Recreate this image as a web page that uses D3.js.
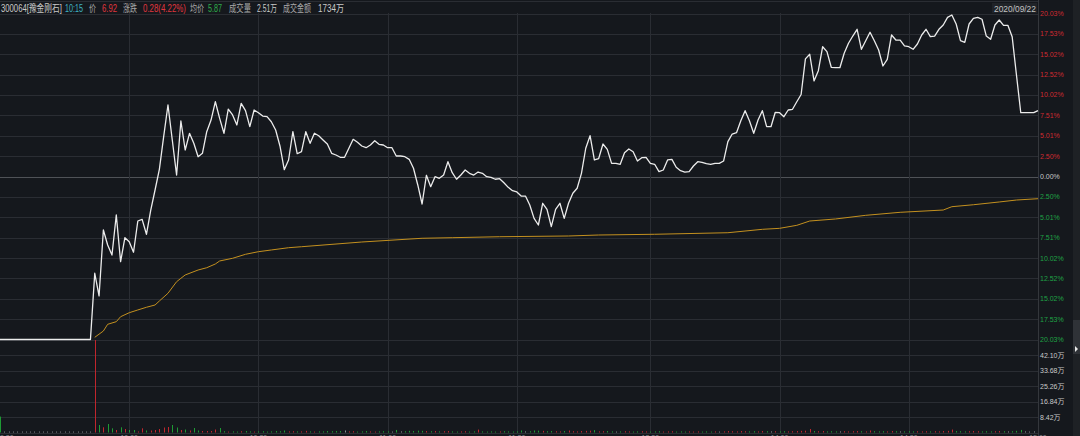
<!DOCTYPE html>
<html><head><meta charset="utf-8">
<script src="https://cdn.jsdelivr.net/npm/d3@7/dist/d3.min.js"></script>
<style>html,body{margin:0;padding:0;background:#15181d;overflow:hidden}svg{display:block}</style>
</head><body><svg id="c" width="1080" height="436"></svg>
<script>
// ---------- DATA ----------
const pctTicks = [20.03,17.53,15.02,12.52,10.02,7.51,5.01,2.50,0.00,-2.50,-5.01,-7.51,-10.02,-12.52,-15.02,-17.53,-20.03];
const volTicks = [42.10,33.68,25.26,16.84,8.42];
const timeTickIdx = [0,30,60,90,120,151,181,211,241];
const timeTickLabels = ["9:30","10:00","10:30","11:00","11:30","13:30","14:00","14:30","15:00"];

// price change (%) per minute, index 0..241
const pricePct = [
-20.03,-20.03,-20.03,-20.03,-20.03,-20.03,-20.03,-20.03,-20.03,-20.03,
-20.03,-20.03,-20.03,-20.03,-20.03,-20.03,-20.03,-20.03,-20.03,-20.03,
-20.03,-20.03,-11.89,-14.68,-6.57,-8.42,-9.65,-4.73,-10.47,-7.52,
-8.01,-9.31,-5.47,-5.26,-7.10,-4.12,-1.66,0.88,4.89,8.79,
4.49,0.18,6.82,3.26,5.31,4.08,2.43,2.85,5.51,6.94,
9.19,7.15,5.31,8.29,7.56,6.33,8.99,8.09,6.12,8.17,
7.84,7.43,7.35,6.73,5.71,3.75,0.84,2.03,5.51,2.80,
3.05,5.51,4.08,5.31,5.01,4.49,3.99,2.85,2.64,2.36,
2.36,3.47,4.57,4.20,3.75,3.54,3.87,4.40,3.96,3.87,
3.54,3.54,2.52,2.52,2.43,2.11,1.01,-1.04,-3.38,0.15,
-1.25,-0.02,-0.22,0.18,1.82,0.47,-0.34,0.18,0.80,0.39,
0.18,0.55,0.39,-0.02,-0.10,-0.34,-0.27,-0.76,-1.33,-1.74,
-1.90,-2.40,-2.40,-3.50,-5.14,-5.96,-3.29,-4.03,-6.17,-4.03,
-3.29,-5.14,-3.29,-2.06,-1.45,0.39,3.47,5.01,2.03,2.21,
3.99,3.34,1.62,1.62,1.50,2.92,3.38,3.05,1.90,2.31,
2.36,1.62,1.50,0.59,0.80,2.03,2.11,1.13,0.71,0.55,
0.59,1.29,1.82,1.74,1.57,1.50,1.62,1.62,1.90,4.28,
5.22,5.38,6.86,8.09,6.86,5.31,6.94,8.09,6.12,6.12,
7.89,7.84,7.35,8.17,8.26,9.19,10.08,14.46,15.02,11.74,
13.00,15.95,15.34,13.42,13.37,13.37,15.14,16.37,17.26,18.09,
15.63,16.69,17.72,16.69,15.54,13.58,14.40,17.39,16.77,16.77,
16.04,15.95,15.63,16.28,17.39,18.09,17.18,17.26,18.09,18.62,
19.56,19.85,18.74,16.69,16.49,18.74,19.44,19.56,19.32,17.26,
16.86,18.62,19.23,18.58,18.58,17.18,12.47,7.84,7.84,7.84,
7.84,8.09];

// average price line (%), read at these minute indices
const avgIdx = [22,24,25,27,28,30,32,34,36,37,39,41,42,43,46,48,50,51,54,57,60,63,67,70,84,98,105,116,132,139,152,169,177,181,185,188,194,201,209,219,221,226,232,236,241];
const avgPct = [-19.76,-18.99,-18.16,-17.84,-17.23,-16.74,-16.40,-16.07,-15.79,-15.30,-14.35,-12.93,-12.51,-12.10,-11.49,-11.21,-10.75,-10.38,-10.05,-9.56,-9.24,-9.03,-8.75,-8.63,-8.05,-7.59,-7.52,-7.40,-7.31,-7.19,-7.10,-6.91,-6.49,-6.37,-6.00,-5.47,-5.22,-4.77,-4.40,-4.12,-3.71,-3.47,-3.13,-2.89,-2.73];

// volume per minute (万)
const volume = [
8.7,0.5,0.5,0.5,0.5,0.5,0.5,0.5,0.5,0.5,
0.5,0.5,0.5,0.5,0.5,0.5,0.5,0.5,0.5,0.5,
0.5,0.5,80,4.1,2.84,4.64,2.29,1.37,2.84,1.91,
1.37,1.37,0.55,2.29,1.09,1.09,1.37,1.91,2.73,3.0,
4.1,2.73,1.37,1.64,1.09,2.46,1.09,0.82,0.82,0.82,
1.64,2.46,0.7,0.5,0.6,0.5,0.7,0.8,0.6,0.5,
0.6,0.7,0.5,0.6,0.8,0.7,1.1,0.6,0.7,0.6,
0.6,0.9,0.6,0.5,0.6,0.6,0.8,0.7,0.8,0.8,
1.1,0.6,0.7,0.5,0.6,0.8,0.6,0.5,0.6,0.7,
0.6,0.5,1.4,0.6,0.7,0.9,0.8,1.0,0.9,0.8,
0.7,0.8,0.6,0.7,0.8,0.6,0.5,0.6,0.7,0.5,
0.6,1.6,0.6,0.5,0.6,0.5,0.6,0.7,0.6,0.5,
0.6,1.1,0.6,0.7,1.1,1.0,0.9,0.7,0.8,0.7,
0.6,0.8,1.1,0.7,0.6,0.8,0.9,1.0,1.3,0.6,
0.7,0.8,0.6,0.5,0.6,0.7,0.6,0.5,0.6,0.7,
0.6,0.5,0.6,0.7,0.5,0.6,0.7,0.5,0.6,0.5,
0.6,0.5,0.6,0.5,0.6,0.5,0.6,0.5,0.6,0.8,
0.7,0.6,0.8,0.7,0.6,0.7,0.6,0.8,0.7,0.6,
0.7,0.6,0.7,0.6,0.7,0.8,0.9,1.0,1.9,0.8,
0.7,0.8,0.6,0.7,0.6,0.6,0.7,0.6,0.7,0.8,
0.7,0.6,1.1,0.7,0.6,0.7,0.6,0.8,0.7,0.6,
0.6,0.7,0.6,0.7,0.6,0.7,0.6,0.7,0.6,0.8,
0.9,1.6,0.8,0.7,0.6,0.7,0.8,0.7,0.6,0.7,
0.6,0.7,0.8,0.7,0.6,0.7,0.9,1.4,0.6,0.5,
0.6,2.9];

const header = [
  {t:"300064[豫金刚石]", x:1, w:61, c:"#c9c9c9"},
  {t:"10:15", x:65, w:18, c:"#3fb3c2"},
  {t:"价", x:89, w:7, c:"#a9a9a9"},
  {t:"6.92", x:102, w:15, c:"#e0363e"},
  {t:"涨跌", x:123, w:14, c:"#a9a9a9"},
  {t:"0.28(4.22%)", x:143, w:43, c:"#e0363e"},
  {t:"均价", x:190, w:14, c:"#a9a9a9"},
  {t:"5.87", x:208, w:14, c:"#2eae4a"},
  {t:"成交量", x:229, w:22, c:"#a9a9a9"},
  {t:"2.51万", x:257, w:20, c:"#c9c9c9"},
  {t:"成交金额", x:283, w:28, c:"#a9a9a9"},
  {t:"1734万", x:318, w:26, c:"#c9c9c9"}
];
const dateLabel = "2020/09/22";

// ---------- DRAW ----------
const svg = d3.select("#c");
const FONT = "'Liberation Sans','Noto Sans CJK SC',sans-serif";
const plotR = 1038;
const x = d3.scaleLinear().domain([0,241]).range([0,plotR]);
const y = d3.scaleLinear().domain([-20.03,20.03]).range([339.5,13.5]);
const yv = d3.scaleLinear().domain([0,50.52]).range([432.5,340]);

svg.append("rect").attr("width",1080).attr("height",436).attr("fill","#15181d");

const grid = svg.append("g");
grid.append("line").attr("x1",0).attr("x2",plotR).attr("y1",1.5).attr("y2",1.5).attr("stroke","#2a2d33");
grid.selectAll(".hp").data(pctTicks).join("line")
  .attr("x1",0).attr("x2",plotR)
  .attr("y1",d=>Math.round(y(d))+0.5).attr("y2",d=>Math.round(y(d))+0.5)
  .attr("stroke",d=>d===0?"#4f5257":"#2a2d33").attr("stroke-width",1);
grid.selectAll(".hv").data(volTicks.concat([0])).join("line")
  .attr("x1",0).attr("x2",plotR)
  .attr("y1",d=>Math.round(yv(d))+0.5).attr("y2",d=>Math.round(yv(d))+0.5)
  .attr("stroke","#2a2d33");
grid.selectAll(".vt").data(timeTickIdx.slice(1,-1)).join("line")
  .attr("x1",d=>Math.round(x(d))+0.5).attr("x2",d=>Math.round(x(d))+0.5)
  .attr("y1",13).attr("y2",433).attr("stroke","#2a2d33");
grid.append("line").attr("x1",plotR+0.5).attr("x2",plotR+0.5).attr("y1",0).attr("y2",436).attr("stroke","#34373c");

// volume bars
svg.append("clipPath").attr("id","vc").append("rect")
  .attr("x",0).attr("y",340).attr("width",plotR).attr("height",93);
const dirColor = (i)=>{
  const prev = i===0 ? 0 : pricePct[i-1];
  if (pricePct[i] > prev) return "#c0262d";
  if (pricePct[i] < prev) return "#1e9a34";
  return "#8a8d92";
};
svg.append("g").attr("clip-path","url(#vc)")
  .selectAll("rect").data(volume).join("rect")
  .attr("x",(d,i)=>Math.round(x(i)))
  .attr("width",1)
  .attr("y",d=>yv(d))
  .attr("height",d=>yv(0)-yv(d))
  .attr("fill",(d,i)=>dirColor(i));

// average line
const avgData = avgIdx.map((k,j)=>[k,avgPct[j]]);
svg.append("path").datum(avgData)
  .attr("d",d3.line().x(d=>x(d[0])).y(d=>y(d[1])))
  .attr("fill","none").attr("stroke","#c3901f").attr("stroke-width",1);

// price line
svg.append("path").datum(pricePct)
  .attr("d",d3.line().x((d,i)=>x(i)).y(d=>y(d)))
  .attr("fill","none").attr("stroke","#ececec").attr("stroke-width",1.3)
  .attr("stroke-linejoin","round");

// right axis labels
svg.selectAll(".pl").data(pctTicks).join("text")
  .attr("x",plotR+2).attr("y",d=>y(d)+2.5)
  .attr("font-family",FONT).attr("font-size",7)
  .attr("fill",d=>d>0?"#cf2a31":(d<0?"#1fa245":"#c8c8c8"))
  .text(d=>Math.abs(d).toFixed(2)+"%");
svg.selectAll(".vl").data(volTicks).join("text")
  .attr("x",plotR+2).attr("y",d=>yv(d)+2.5)
  .attr("font-family",FONT).attr("font-size",7)
  .attr("fill","#c8c8c8")
  .text(d=>d.toFixed(2)+"万");

// time labels (mostly below the bottom edge, as in the reference)
svg.selectAll(".tl").data(timeTickIdx).join("text")
  .attr("x",d=>x(d)).attr("y",439.5)
  .attr("text-anchor",(d,i)=>i===0?"start":"middle")
  .attr("font-family",FONT).attr("font-size",7).attr("fill","#8c8f94")
  .text((d,i)=>timeTickLabels[i]);

// header: horizontally condensed text fitted to measured widths
svg.selectAll(".hd").data(header).join("text")
  .attr("font-family",FONT).attr("font-size",10)
  .attr("fill",d=>d.c).text(d=>d.t)
  .each(function(d){
    const nat = this.getComputedTextLength();
    const sx = d.w / nat;
    d3.select(this).attr("transform",`translate(${d.x},12.3) scale(${sx},1)`);
  });

svg.append("rect").attr("x",992).attr("y",3).attr("width",45).attr("height",10).attr("fill","#202328");
svg.append("text").attr("font-family",FONT).attr("font-size",9)
  .attr("fill","#c2c2c2").text(dateLabel)
  .each(function(){
    const sx = 42 / this.getComputedTextLength();
    d3.select(this).attr("transform",`translate(994,11.5) scale(${sx},1)`);
  });

// right scroll strip
svg.append("rect").attr("x",1073).attr("y",0).attr("width",7).attr("height",436).attr("fill","#1e2125");
svg.append("rect").attr("x",1073).attr("y",320).attr("width",7).attr("height",34).attr("fill","#2f3237");
svg.append("path").attr("d","M1075,346 L1078,349 L1075,352 Z").attr("fill","#e8e8e8");
</script></body></html>
